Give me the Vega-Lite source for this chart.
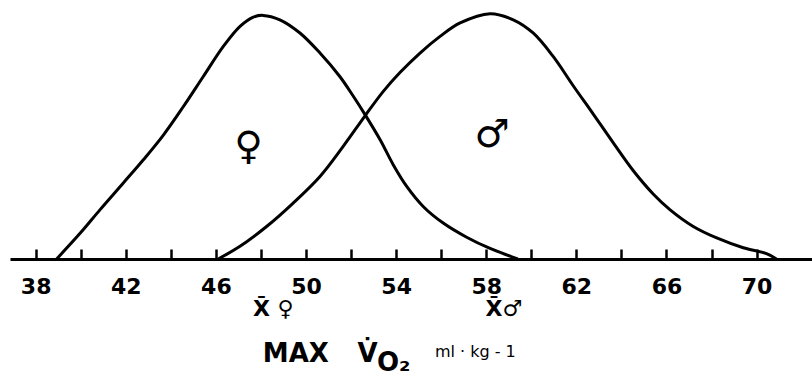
{
  "$schema": "https://vega.github.io/schema/vega-lite/v6.json",
  "width": 802,
  "height": 259,
  "autosize": {"type": "none"},
  "padding": {"left": 10, "top": 0, "right": 0, "bottom": 118},
  "background": "white",
  "config": {"view": {"stroke": null}},
  "layer": [
    {
      "data": {"values": [
        {"sex": "F", "v": 38.93, "f": 0},
        {"sex": "F", "v": 40.0, "f": 10.8},
        {"sex": "F", "v": 40.86, "f": 20.2},
        {"sex": "F", "v": 41.89, "f": 31.1},
        {"sex": "F", "v": 42.78, "f": 40.6},
        {"sex": "F", "v": 43.66, "f": 50.6},
        {"sex": "F", "v": 44.55, "f": 62.3},
        {"sex": "F", "v": 45.44, "f": 74.7},
        {"sex": "F", "v": 46.33, "f": 87.0},
        {"sex": "F", "v": 47.07, "f": 95.2},
        {"sex": "F", "v": 47.66, "f": 99.0},
        {"sex": "F", "v": 48.1, "f": 99.7},
        {"sex": "F", "v": 48.84, "f": 97.9},
        {"sex": "F", "v": 49.73, "f": 92.5},
        {"sex": "F", "v": 50.62, "f": 84.3},
        {"sex": "F", "v": 51.5, "f": 74.7},
        {"sex": "F", "v": 52.1, "f": 66.6},
        {"sex": "F", "v": 52.62, "f": 59.1},
        {"sex": "F", "v": 53.29, "f": 48.8},
        {"sex": "F", "v": 53.87, "f": 38.6},
        {"sex": "F", "v": 54.47, "f": 29.7},
        {"sex": "F", "v": 55.2, "f": 21.5},
        {"sex": "F", "v": 56.09, "f": 14.7},
        {"sex": "F", "v": 57.13, "f": 8.9},
        {"sex": "F", "v": 58.17, "f": 4.3},
        {"sex": "F", "v": 59.4, "f": 0},
        {"sex": "M", "v": 46.1, "f": 0},
        {"sex": "M", "v": 47.07, "f": 5.2},
        {"sex": "M", "v": 48.25, "f": 13.3},
        {"sex": "M", "v": 49.43, "f": 22.9},
        {"sex": "M", "v": 50.62, "f": 33.8},
        {"sex": "M", "v": 51.65, "f": 46.1},
        {"sex": "M", "v": 52.62, "f": 58.6},
        {"sex": "M", "v": 53.43, "f": 68.6},
        {"sex": "M", "v": 54.17, "f": 76.3},
        {"sex": "M", "v": 55.06, "f": 84.3},
        {"sex": "M", "v": 55.95, "f": 91.1},
        {"sex": "M", "v": 56.84, "f": 96.6},
        {"sex": "M", "v": 58.17, "f": 100.4},
        {"sex": "M", "v": 59.2, "f": 97.9},
        {"sex": "M", "v": 60.08, "f": 92.5},
        {"sex": "M", "v": 60.97, "f": 82.9},
        {"sex": "M", "v": 61.86, "f": 70.9},
        {"sex": "M", "v": 62.75, "f": 59.3},
        {"sex": "M", "v": 63.64, "f": 47.5},
        {"sex": "M", "v": 64.52, "f": 36.2},
        {"sex": "M", "v": 65.41, "f": 26.6},
        {"sex": "M", "v": 66.15, "f": 20.2},
        {"sex": "M", "v": 67.19, "f": 13.3},
        {"sex": "M", "v": 68.23, "f": 8.6},
        {"sex": "M", "v": 69.41, "f": 4.6},
        {"sex": "M", "v": 70.44, "f": 2.2},
        {"sex": "M", "v": 70.88, "f": 0}
      ]},
      "mark": {"type": "line", "color": "black", "strokeWidth": 3, "interpolate": "catmull-rom", "clip": false},
      "encoding": {
        "x": {
          "field": "v", "type": "quantitative",
          "scale": {"domain": [36.86, 72.46], "nice": false, "zero": false},
          "axis": {
            "values": [38, 40, 42, 44, 46, 48, 50, 52, 54, 56, 58, 60, 62, 64, 66, 68, 70],
            "labelExpr": "(datum.value - 38) % 4 == 0 ? datum.label : ''",
            "title": null,
            "grid": false,
            "domainColor": "black",
            "domainWidth": 3,
            "tickColor": "black",
            "tickWidth": 2.5,
            "tickSize": -10,
            "labelPadding": 27,
            "labelFont": "DejaVu Sans",
            "labelFontWeight": "bold",
            "labelFontSize": 22,
            "labelColor": "black",
            "labelBaseline": "top",
            "labelFlush": false,
            "labelOverlap": false
          }
        },
        "y": {
          "field": "f", "type": "quantitative",
          "scale": {"domain": [0, 106], "nice": false},
          "axis": null
        },
        "detail": {"field": "sex"}
      }
    },
    {
      "data": {"values": [{"label": "♀", "v": 47.45, "f": 45.9}, {"label": "♂", "v": 58.26, "f": 50.8}]},
      "mark": {"type": "text", "font": "DejaVu Sans", "fontSize": 39, "baseline": "middle", "align": "center", "color": "black"},
      "encoding": {
        "x": {"field": "v", "type": "quantitative"},
        "y": {"field": "f", "type": "quantitative"},
        "text": {"field": "label"}
      }
    },
    {
      "data": {"values": [{"label": "X̄ ♀", "v": 48.55, "f": 0}, {"label": "X̄♂", "v": 58.78, "f": 0}]},
      "mark": {"type": "text", "font": "DejaVu Sans", "fontSize": 22, "fontWeight": "bold", "baseline": "alphabetic", "align": "center", "dy": 57, "color": "black", "clip": false},
      "encoding": {
        "x": {"field": "v", "type": "quantitative"},
        "y": {"field": "f", "type": "quantitative"},
        "text": {"field": "label"}
      }
    },
    {
      "data": {"values": [{"label": "MAX", "v": 49.55, "f": 0}, {"label": "V̇", "v": 52.73, "f": 0}]},
      "mark": {"type": "text", "font": "DejaVu Sans", "fontSize": 26, "fontWeight": "bold", "baseline": "alphabetic", "align": "center", "dy": 102.5, "color": "black"},
      "encoding": {
        "x": {"field": "v", "type": "quantitative"},
        "y": {"field": "f", "type": "quantitative"},
        "text": {"field": "label"}
      }
    },
    {
      "data": {"values": [{"label": "O₂", "v": 53.15, "f": 0}]},
      "mark": {"type": "text", "font": "DejaVu Sans", "fontSize": 26, "fontWeight": "bold", "baseline": "alphabetic", "align": "left", "dy": 112, "color": "black"},
      "encoding": {
        "x": {"field": "v", "type": "quantitative"},
        "y": {"field": "f", "type": "quantitative"},
        "text": {"field": "label"}
      }
    },
    {
      "data": {"values": [{"label": "ml · kg - 1", "v": 55.72, "f": 0}]},
      "mark": {"type": "text", "font": "DejaVu Sans", "fontSize": 16, "baseline": "alphabetic", "align": "left", "dy": 97.5, "color": "black"},
      "encoding": {
        "x": {"field": "v", "type": "quantitative"},
        "y": {"field": "f", "type": "quantitative"},
        "text": {"field": "label"}
      }
    }
  ]
}
